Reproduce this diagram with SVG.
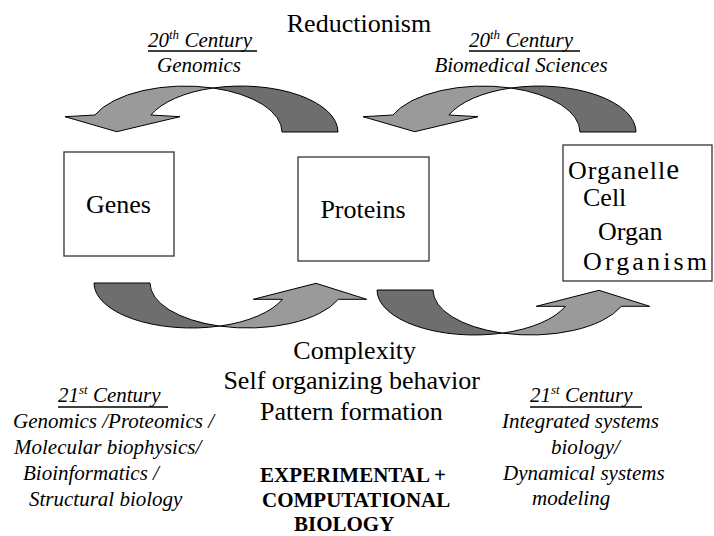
<svg xmlns="http://www.w3.org/2000/svg" width="714" height="536" viewBox="0 0 714 536" font-family="Liberation Serif, DejaVu Serif, serif">
<style>
text{font-family:'Liberation Serif','DejaVu Serif',serif;fill:#000}
.big{font-size:26px}
.it{font-size:21px;font-style:italic}
.bd{font-size:21px;font-weight:bold}
.box{fill:#fff;stroke:#333;stroke-width:1.3}
.lt{fill:#9a9a9a;stroke:#000;stroke-width:1}
.dk{fill:#6e6e6e;stroke:#000;stroke-width:1}
.ul{stroke:#000;stroke-width:1.5}
</style>
<defs>
<g id="topArrow">
<path class="lt" d="M94.9,115 A97 46 0 0 1 213,88 A97 46 0 0 0 150.9,115 L180,116.7 L116.7,131.7 L65,116.7 Z"/>
<path class="dk" d="M213,88 A97 46 0 0 1 338,132 L282,132 A97 46 0 0 0 213,88 Z"/>
</g>
<g id="botArrow">
<path class="dk" d="M94,283 L150,283 A97.5 45 0 0 0 219.5,326.1 A97.5 45 0 0 1 94,283 Z"/>
<path class="lt" d="M219.5,326.1 A97.5 45 0 0 0 338.4,299.3 L366.7,299.3 L316,283.3 L253.3,299.3 L282.4,299.3 A97.5 45 0 0 1 219.5,326.1 Z"/>
</g>
</defs>
<g id="connectors">
<use href="#topArrow"/>
<use href="#topArrow" transform="translate(298,0)"/>
<use href="#botArrow"/>
<use href="#botArrow" transform="translate(283,7)"/>
</g>
<g id="genes">
<rect class="box" x="64" y="152" width="110" height="104"/>
<text class="big" x="118.5" y="213" text-anchor="middle">Genes</text>
</g>
<g id="proteins">
<rect class="box" x="298" y="157" width="131" height="104"/>
<text class="big" x="363" y="218" text-anchor="middle">Proteins</text>
</g>
<g id="organism">
<rect class="box" x="563" y="145" width="149" height="136"/>
<text class="big" x="568" y="179" textLength="111" lengthAdjust="spacing">Organell<tspan font-size="29">e</tspan></text>
<text class="big" x="583" y="206">Cell</text>
<text class="big" x="598" y="240">Organ</text>
<text class="big" x="583" y="270" textLength="124" lengthAdjust="spacing">Organism</text>
</g>
<g id="labels">
<text class="big" x="359" y="32" text-anchor="middle">Reductionism</text>
<text class="it" x="148" y="47">20<tspan font-size="13" dy="-8">th</tspan><tspan dy="8"> Century</tspan></text>
<line class="ul" x1="148" y1="51" x2="257" y2="51"/>
<text class="it" x="199" y="72" text-anchor="middle">Genomics</text>
<text class="it" x="469" y="47">20<tspan font-size="13" dy="-8">th</tspan><tspan dy="8"> Century</tspan></text>
<line class="ul" x1="469" y1="51" x2="580" y2="51"/>
<text class="it" x="521" y="72" text-anchor="middle">Biomedical Sciences</text>
<text class="big" x="354.7" y="359" text-anchor="middle">Complexity</text>
<text class="big" x="351.7" y="389" text-anchor="middle">Self organizing behavior</text>
<text class="big" x="351.3" y="420" text-anchor="middle">Pattern formation</text>
<text class="bd" x="260" y="482">EXPERIMENTAL +</text>
<text class="bd" x="262" y="507">COMPUTATIONAL</text>
<text class="bd" x="294" y="531">BIOLOGY</text>
<text class="it" x="58" y="402">21<tspan font-size="13" dy="-8">st</tspan><tspan dy="8"> Century</tspan></text>
<line class="ul" x1="58" y1="407" x2="168" y2="407"/>
<text class="it" x="13" y="428">Genomics /Proteomics /</text>
<text class="it" x="14" y="454">Molecular biophysics/</text>
<text class="it" x="23" y="480">Bioinformatics  /</text>
<text class="it" x="29" y="506">Structural biology</text>
<text class="it" x="530" y="402">21<tspan font-size="13" dy="-8">st</tspan><tspan dy="8"> Century</tspan></text>
<line class="ul" x1="530" y1="407" x2="642" y2="407"/>
<text class="it" x="502" y="428">Integrated systems</text>
<text class="it" x="551" y="454">biology/</text>
<text class="it" x="503" y="480">Dynamical systems</text>
<text class="it" x="532" y="505">modeling</text>
</g>
</svg>
